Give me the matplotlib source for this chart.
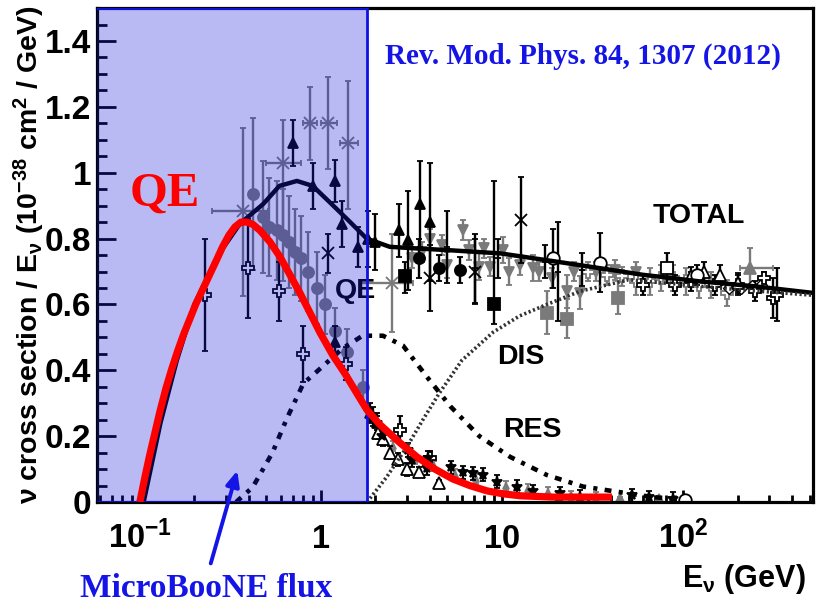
import numpy as np
import matplotlib
matplotlib.use('Agg')
import matplotlib.pyplot as plt
from matplotlib.ticker import MultipleLocator, LogLocator, NullFormatter

plt.rcParams['font.family'] = ['Liberation Sans', 'DejaVu Sans']
plt.rcParams['font.weight'] = 'bold'
plt.rcParams['mathtext.fontset'] = 'custom'
plt.rcParams['mathtext.rm'] = 'Liberation Sans:bold'
plt.rcParams['mathtext.it'] = 'Liberation Sans:bold'
plt.rcParams['mathtext.bf'] = 'Liberation Sans:bold'
plt.rcParams['mathtext.default'] = 'rm'

# --- model curves (E in GeV, sigma/E in 1e-38 cm^2/GeV) ---
red_E = [0.1000, 0.1066, 0.1136, 0.1211, 0.1291, 0.1393, 0.1502, 0.1620, 0.1747, 0.1885,
         0.2033, 0.2221, 0.2427, 0.2652, 0.2864, 0.3102, 0.3347, 0.3616, 0.3904, 0.4212,
         0.4602, 0.5227, 0.5936, 0.6742, 0.7657, 0.8696, 0.9873, 1.165, 1.357, 1.58, 1.795,
         2.118, 2.73, 3.39, 4.26, 5.35, 6.64, 8.25, 10.1, 12.6, 19.1, 40.5]
red_y = [0.0, 0.075, 0.145, 0.21, 0.275, 0.345, 0.405, 0.46, 0.51, 0.555,
         0.60, 0.645, 0.69, 0.735, 0.775, 0.81, 0.835, 0.85, 0.85, 0.843,
         0.825, 0.79, 0.745, 0.69, 0.635, 0.575, 0.515, 0.445, 0.39, 0.33, 0.28,
         0.235, 0.18, 0.137, 0.10, 0.07, 0.05, 0.034, 0.025, 0.019, 0.015, 0.015]

total_E = [0.105, 0.13, 0.16, 0.20, 0.25, 0.287, 0.357, 0.48, 0.59, 0.737, 0.90, 1.12, 1.39,
           1.79, 2.4, 3.4, 5.0, 9.8, 20, 34.8, 60, 124, 250, 522]
total_y = [0.0, 0.24, 0.43, 0.60, 0.71, 0.77, 0.845, 0.905, 0.96, 0.975, 0.96, 0.91, 0.86,
           0.80, 0.775, 0.77, 0.765, 0.755, 0.73, 0.71, 0.69, 0.67, 0.655, 0.635]

res_E = [0.34, 0.42, 0.54, 0.65, 0.80, 0.99, 1.32, 1.7, 2.2, 2.84, 3.85, 5.2, 7.5, 11.1,
         17.7, 28, 44.7, 68, 96]
res_y = [0.0, 0.045, 0.15, 0.255, 0.36, 0.405, 0.467, 0.505, 0.505, 0.475, 0.38, 0.29, 0.2,
         0.137, 0.082, 0.047, 0.03, 0.015, 0.008]

dis_E = [1.80, 2.3, 2.98, 3.66, 4.5, 6.0, 8.9, 12.5, 17.7, 27, 50, 100, 200, 522]
dis_y = [0.0, 0.075, 0.167, 0.25, 0.33, 0.43, 0.515, 0.565, 0.60, 0.64, 0.675, 0.66, 0.645, 0.628]

# --- data points ---
gstar_E = [0.37, 0.62, 0.87, 1.09, 1.41, 2.47]
gstar_y = [0.885, 1.03, 1.15, 1.15, 1.09, 0.665]
gstar_lo = [0.26, 0.21, 0.11, 0.14, 0.20, 0.15]
gstar_hi = [0.25, 0.13, 0.11, 0.14, 0.19, 0.15]
gstar_xlo = [0.25, 0.50, 0.80, 1.00, 1.27, 1.64]
gstar_xhi = [0.51, 0.78, 0.95, 1.22, 1.60, 3.23]

gcirc_E = [0.42, 0.48, 0.52, 0.57, 0.62, 0.67, 0.72, 0.78, 0.85, 0.95, 1.05, 1.19, 1.39, 1.71]
gcirc_y = [0.935, 0.865, 0.835, 0.825, 0.81, 0.79, 0.76, 0.74, 0.70, 0.65, 0.60, 0.52, 0.455, 0.35]
gcirc_err = [0.23, 0.17, 0.15, 0.15, 0.14, 0.14, 0.13, 0.13, 0.12, 0.11, 0.09, 0.07, 0.07, 0.05]

btri_E = [0.70, 0.90, 1.19, 1.30, 1.60, 1.82, 2.0, 2.70, 3.02, 3.52, 4.0, 1.19, 1.86, 1.95, 2.05]
btri_y = [1.09, 0.96, 0.975, 0.845, 0.775, 0.80, 0.79, 0.825, 0.795, 0.905, 0.85, 0.485, 0.27, 0.26, 0.24]
btri_err = [0.07, 0.07, 0.065, 0.07, 0.06, 0.085, 0.085, 0.08, 0.15, 0.13, 0.18, 0.05, 0.03, 0.03, 0.03]

wplus_E = [0.23, 0.395, 0.59, 0.80, 1.38, 2.73, 4.0, 60, 90, 110, 150, 200, 250, 281, 315, 330]
wplus_y = [0.63, 0.71, 0.64, 0.45, 0.42, 0.22, 0.135, 0.66, 0.66, 0.67, 0.66, 0.66, 0.64,
           0.68, 0.62, 0.63]
wplus_err = [0.17, 0.15, 0.09, 0.085, 0.05, 0.04, 0.02, 0.03, 0.03, 0.03, 0.03, 0.03, 0.03,
             0.02, 0.06, 0.08]

bcirc_E = [3.48, 4.5, 5.9]
bcirc_y = [0.74, 0.71, 0.705]
bcirc_err = [0.06, 0.04, 0.04]

bsq_E = [2.9, 9.0]
bsq_y = [0.685, 0.60]
bsq_lo = [0.05, 0.06]
bsq_hi = [0.045, 0.375]

bstar_E = [1.09, 4.0, 7.1, 12.7]
bstar_y = [0.755, 0.68, 0.70, 0.857]
bstar_err = [0.06, 0.10, 0.10, 0.13]

bbar_E = [5.0, 7.1, 9.5, 17.3, 20.3, 27.6]
bbar_y = [0.775, 0.71, 0.74, 0.73, 0.70, 0.705]
bbar_err = [0.11, 0.105, 0.06, 0.05, 0.15, 0.05]

gtri_E = [3.2, 3.6, 4.0, 4.65, 5.0, 6.1, 6.6, 7.5, 8.0, 8.6, 10.1, 11.0, 12.5, 14.8, 16, 19,
          22.8, 25, 27.0, 33, 38, 42, 55]
gtri_y = [0.74, 0.76, 0.80, 0.78, 0.72, 0.825, 0.765, 0.715, 0.77, 0.715, 0.765, 0.70, 0.72,
          0.71, 0.70, 0.68, 0.64, 0.70, 0.635, 0.70, 0.69, 0.705, 0.70]
gtri_err = [0.03, 0.03, 0.03, 0.03, 0.04, 0.03, 0.03, 0.04, 0.03, 0.03, 0.04, 0.04, 0.03,
            0.04, 0.03, 0.03, 0.05, 0.03, 0.05, 0.03, 0.03, 0.03, 0.03]

gsq_E = [17.7, 22.8, 43.6]
gsq_y = [0.575, 0.557, 0.62]
gsq_err = [0.065, 0.06, 0.05]

otri_E = [2.07, 2.2, 2.4, 2.66, 3.0, 3.5, 4.5, 110, 130, 160, 200]
otri_y = [0.21, 0.19, 0.15, 0.13, 0.10, 0.09, 0.057, 0.685, 0.70, 0.69, 0.665]
otri_err = [0.02, 0.02, 0.02, 0.02, 0.02, 0.015, 0.01, 0.03, 0.03, 0.03, 0.03]

ocirc_E = [19.1, 34.8, 103, 120]
ocirc_y = [0.74, 0.727, 0.005, 0.69]
ocirc_err = [0.09, 0.09, 0.012, 0.03]

osq_E = [82]
osq_y = [0.71]
osq_err = [0.045]

gtriu_E = [44.7, 74, 235]
gtriu_y = [0.006, 0.006, 0.712]
gtriu_err = [0.01, 0.01, 0.06]
gtriu_xlo = [44.7, 74, 206]
gtriu_xhi = [44.7, 74, 315]

bsmall_E = [1.9, 2.04, 2.17, 3.02, 3.18, 3.85, 3.9, 5.2, 6.1, 6.9, 7.9, 9.4, 12.1, 14.8,
            20.9, 27, 52, 65, 88]
bsmall_y = [0.265, 0.24, 0.20, 0.158, 0.127, 0.103, 0.135, 0.105, 0.09, 0.087, 0.083, 0.062,
            0.047, 0.032, 0.027, 0.016, 0.02, 0.015, 0.01]

gsmall_E = [2.5, 3.3, 4.2, 5.5, 7.2, 10.5, 14, 18, 24, 33]
gsmall_y = [0.17, 0.13, 0.11, 0.085, 0.07, 0.05, 0.04, 0.03, 0.02, 0.015]

gplus_E = [30, 38, 46, 55, 66, 76, 88, 104, 123, 142, 175]
gplus_y = [0.70, 0.69, 0.685, 0.67, 0.67, 0.68, 0.68, 0.67, 0.66, 0.66, 0.635]
gplus_err = [0.03, 0.03, 0.03, 0.04, 0.04, 0.04, 0.04, 0.04, 0.04, 0.04, 0.04]

odia_E = [180, 210, 240, 270]
odia_y = [0.65, 0.65, 0.655, 0.66]

flux_max = 1.8
BLACK = '#000000'
GRAY = '#7a7a7a'
BLUE = '#1414e6'

fig = plt.figure(figsize=(8.18, 6.10), dpi=100)
ax = fig.add_axes([0.1186, 0.1770, 0.8753, 0.8098])


def pts(E, y, err, marker, mfc, mec, ecol, ms=7, xlo=None, xhi=None, z=2):
    xerr = None
    if xlo is not None:
        xerr = [np.subtract(E, xlo), np.subtract(xhi, E)]
    ax.errorbar(E, y, yerr=err, xerr=xerr, ls='none', marker=marker, mfc=mfc, mec=mec,
                ecolor=ecol, ms=ms, mew=1.3, elinewidth=1.7, capsize=2.5, capthick=1.7,
                zorder=z)


# gray sets first, black on top
pts(gstar_E, gstar_y, [gstar_lo, gstar_hi], 'x', GRAY, GRAY, GRAY, ms=9,
    xlo=gstar_xlo, xhi=gstar_xhi)
pts(gcirc_E, gcirc_y, gcirc_err, 'o', GRAY, GRAY, GRAY, ms=8)
pts(gtri_E, gtri_y, gtri_err, 'v', GRAY, GRAY, GRAY, ms=7)
pts(gsq_E, gsq_y, gsq_err, 's', GRAY, GRAY, GRAY, ms=8)
pts(gtriu_E, gtriu_y, gtriu_err, '^', GRAY, GRAY, GRAY, ms=8, xlo=gtriu_xlo, xhi=gtriu_xhi)
pts(gplus_E, gplus_y, gplus_err, 'P', 'white', GRAY, GRAY, ms=8)
pts(gsmall_E, gsmall_y, 0.015, '^', GRAY, GRAY, GRAY, ms=5)

pts(btri_E, btri_y, btri_err, '^', BLACK, BLACK, BLACK, ms=7, z=2.2)
pts(wplus_E, wplus_y, wplus_err, 'P', 'white', BLACK, BLACK, ms=9, z=2.2)
pts(bcirc_E, bcirc_y, bcirc_err, 'o', BLACK, BLACK, BLACK, ms=8, z=2.2)
pts(bsq_E, bsq_y, [bsq_lo, bsq_hi], 's', BLACK, BLACK, BLACK, ms=8, z=2.2)
pts(bstar_E, bstar_y, bstar_err, 'x', BLACK, BLACK, BLACK, ms=9, z=2.2)
pts(bbar_E, bbar_y, bbar_err, '_', BLACK, BLACK, BLACK, ms=4, z=2.2)
pts(otri_E, otri_y, otri_err, '^', 'white', BLACK, BLACK, ms=9, z=2.2)
pts(ocirc_E, ocirc_y, ocirc_err, 'o', 'white', BLACK, BLACK, ms=9, z=2.2)
pts(osq_E, osq_y, osq_err, 's', 'white', BLACK, BLACK, ms=9, z=2.2)
pts(bsmall_E, bsmall_y, 0.02, '*', BLACK, BLACK, BLACK, ms=7, z=2.2)
ax.plot(odia_E, odia_y, ls='none', marker='D', mfc='white', mec=BLACK, ms=6, zorder=2.2)

# model curves
ax.plot(total_E, total_y, color=BLACK, lw=3.2, zorder=3, solid_capstyle='butt')
ax.plot(res_E, res_y, color=BLACK, lw=3.3, ls=(0, (1.5, 1.6, 0.9, 1.6)), zorder=3)
ax.plot(dis_E, dis_y, color='#333333', lw=2.6, ls=(0, (0.6, 0.7)), zorder=3)

# MicroBooNE flux region
ax.axvspan(0.01, flux_max, facecolor=(0.1, 0.1, 0.85, 0.30), edgecolor='#1010e0',
           lw=2, zorder=4)

ax.plot(red_E, red_y, color='#ff0000', lw=5.2, zorder=5, solid_capstyle='butt',
        solid_joinstyle='round')

ax.set_xscale('log')
ax.set_xlim(0.058, 522)
ax.set_ylim(0, 1.5)
ax.set_xticks([0.1, 1, 10, 100])
ax.set_xticklabels(['10$^{-1}$', '1', '10', '10$^{2}$'])
ax.xaxis.set_minor_locator(LogLocator(base=10, subs=np.arange(2, 10)))
ax.xaxis.set_minor_formatter(NullFormatter())
ax.set_yticks([0, 0.2, 0.4, 0.6, 0.8, 1.0, 1.2, 1.4])
ax.set_yticklabels(['0', '0.2', '0.4', '0.6', '0.8', '1', '1.2', '1.4'])
ax.yaxis.set_minor_locator(MultipleLocator(0.05))
ax.tick_params(which='both', direction='in', top=False, right=False, width=2)
ax.tick_params(axis='y', which='major', length=14, pad=4, labelsize=24)
ax.tick_params(axis='y', which='minor', length=7)
ax.tick_params(axis='x', which='major', length=9, pad=33, labelsize=23.5)
ax.tick_params(axis='x', which='minor', length=5)
for lbl in ax.get_xticklabels():
    lbl.set_verticalalignment('baseline')
for sp in ax.spines.values():
    sp.set_linewidth(2.3)

ax.set_ylabel('ν cross section / E$_{ν}$ (10$^{-38}$ cm$^{2}$ / GeV)', fontsize=20.5,
              fontweight='bold')
ax.yaxis.set_label_coords(-0.07, 0.5)
fig.text(0.8337, 0.0377, 'E$_{ν}$ (GeV)', fontsize=22, fontweight='bold', va='baseline')

# curve labels
ax.text(67.5, 0.848, 'TOTAL', fontsize=20.5, va='baseline', zorder=3)
ax.text(1.195, 0.621, 'QE', fontsize=20.5, va='baseline', zorder=3)
ax.text(9.39, 0.418, 'DIS', fontsize=20.5, va='baseline', zorder=3)
ax.text(10.1, 0.197, 'RES', fontsize=20.5, va='baseline', zorder=3)

serif = ['Liberation Serif', 'DejaVu Serif']
ax.text(0.0879, 0.90, 'QE', color='#ff0000', fontsize=35, family=serif, va='baseline',
        zorder=6)
ax.text(2.26, 1.33, 'Rev. Mod. Phys. 84, 1307 (2012)', color=BLUE, fontsize=21,
        family=serif, va='baseline', zorder=6)
fig.text(0.0978, 0.022, 'MicroBooNE flux', color=BLUE, fontsize=24, family=serif,
         fontweight='bold', va='baseline')
ax.annotate('', xy=(0.291, 0.2328), xytext=(0.2567, 0.072), xycoords='figure fraction',
            textcoords='figure fraction', annotation_clip=False,
            arrowprops=dict(arrowstyle='-|>,head_length=0.9,head_width=0.4',
                            color=BLUE, lw=2.8), zorder=6)

fig.savefig('out.png', dpi=100)
